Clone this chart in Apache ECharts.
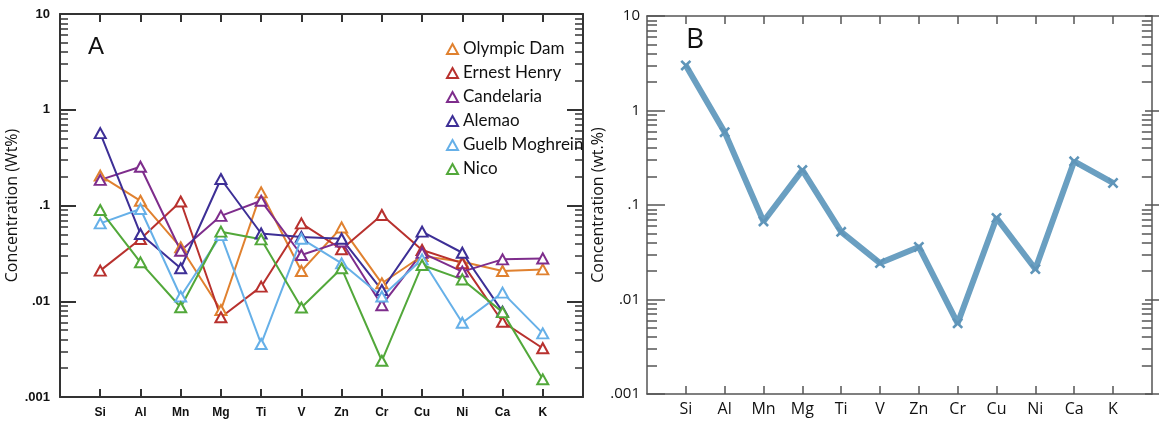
<!DOCTYPE html>
<html>
<head>
<meta charset="utf-8">
<style>
  html, body { margin: 0; padding: 0; background: #fff; }
  #main { width: 1159px; height: 425px; }
</style>
<script src="https://cdn.jsdelivr.net/npm/echarts@6/dist/echarts.min.js"></script>
</head>
<body>
<div id="main"></div>
<script>
// categories (elements) and y tick labels
const elements = ["Si", "Al", "Mn", "Mg", "Ti", "V", "Zn", "Cr", "Cu", "Ni", "Ca", "K"];
const yTickLabels = [".001", ".01", ".1", "1", "10"];

// panel A, concentration (Wt%) per deposit
const olympicDam = [0.205, 0.112, 0.0366, 0.0081, 0.137, 0.0207, 0.059, 0.0154, 0.0297, 0.0259, 0.0207, 0.0215];
const ernestHenry = [0.0209, 0.0447, 0.11, 0.0068, 0.0142, 0.065, 0.0349, 0.0796, 0.0343, 0.025, 0.0061, 0.00323];
const candelaria = [0.185, 0.254, 0.0337, 0.078, 0.112, 0.0304, 0.042, 0.0091, 0.032, 0.0204, 0.0274, 0.028];
const alemao = [0.57, 0.0504, 0.0221, 0.189, 0.051, 0.047, 0.045, 0.0131, 0.0533, 0.0321, 0.0078, null];
const guelbMoghrein = [0.065, 0.092, 0.0112, 0.049, 0.00358, 0.045, 0.0249, 0.0112, 0.0274, 0.00597, 0.0123, 0.00462];
const nico = [0.0897, 0.0255, 0.00865, 0.0533, 0.0443, 0.0086, 0.0221, 0.00239, 0.0239, 0.0169, 0.0077, 0.00153];

// panel B, concentration (wt.%)
const panelB = [3.0, 0.59, 0.067, 0.234, 0.052, 0.0243, 0.036, 0.0056, 0.073, 0.021, 0.29, 0.171];

const seriesA = [
  { name: "Olympic Dam", data: olympicDam, color: "#e0812f" },
  { name: "Ernest Henry", data: ernestHenry, color: "#b8312e" },
  { name: "Candelaria", data: candelaria, color: "#7e2d8c" },
  { name: "Alemao", data: alemao, color: "#3d2f96" },
  { name: "Guelb Moghrein", data: guelbMoghrein, color: "#66b0e8" },
  { name: "Nico", data: nico, color: "#52a83a" },
];

// padded category axis so the first and last element sit one step in from the box
const axisCats = [" ", ...elements, "  "];
const pad = (arr) => [null, ...arr, null];

// minor tick positions in log10 space: 2..9 within each decade
const minorTicks = [];
for (let d = -3; d < 1; d++) {
  for (let k = 2; k <= 9; k++) minorTicks.push(d + Math.log10(k));
}

const chartDom = document.getElementById("main");
const myChart = echarts.init(chartDom);

function xAxes(gridIndex, opt) {
  const common = {
    type: "category",
    gridIndex: gridIndex,
    data: axisCats,
    boundaryGap: false,
    axisLine: { onZero: false, lineStyle: { color: opt.lineColor, width: opt.lineWidth } },
    axisTick: {
      show: true,
      inside: true,
      length: 8,
      interval: (i, v) => v.trim() !== "",
      lineStyle: { color: opt.lineColor, width: opt.tickWidth },
    },
    splitLine: { show: false },
  };
  return [
    Object.assign({}, common, {
      position: "bottom",
      axisLabel: {
        interval: 0,
        margin: opt.xLabelMargin,
        color: "#111",
        fontSize: opt.xFontSize,
        fontFamily: opt.font,
        fontWeight: opt.fontWeight,
      },
    }),
    Object.assign({}, common, { position: "top", axisLabel: { show: false } }),
  ];
}

function yAxes(gridIndex, opt) {
  const logAxis = (pos, showLabel) => ({
    type: "log",
    logBase: 10,
    gridIndex: gridIndex,
    position: pos,
    min: 0.001,
    max: 10,
    splitNumber: 4,
    axisLine: { show: true, onZero: false, lineStyle: { color: opt.lineColor, width: opt.lineWidth } },
    axisTick: { show: false },
    splitLine: { show: false },
    axisLabel: {
      show: showLabel,
      margin: opt.yLabelMargin,
      color: "#111",
      fontSize: opt.yFontSize,
      fontFamily: opt.font,
      fontWeight: opt.fontWeight,
      formatter: (v) => yTickLabels[Math.round(Math.log10(v)) + 3],
    },
    name: showLabel ? opt.yName : "",
    nameLocation: "middle",
    nameGap: opt.nameGap,
    nameTextStyle: { fontSize: 16, fontFamily: "Open Sans", color: "#111" },
  });
  const minorAxis = (pos) => ({
    type: "value",
    gridIndex: gridIndex,
    position: pos,
    min: -3,
    max: 1,
    axisLine: { show: true, onZero: false, lineStyle: { color: "rgba(0,0,0,0)" } },
    axisLabel: { show: false },
    splitLine: { show: false },
    axisTick: {
      show: true,
      inside: true,
      length: opt.minorLen,
      customValues: minorTicks,
      lineStyle: { color: opt.lineColor, width: 1.5 },
    },
  });
  return [logAxis("left", true), minorAxis("left"), logAxis("right", false), minorAxis("right")];
}

const optA = {
  lineColor: "#333", lineWidth: 2, tickWidth: 2, majorLen: 16, minorLen: 8,
  font: "Liberation Sans", fontWeight: "bold", xFontSize: 12, yFontSize: 13,
  xLabelMargin: 10, yLabelMargin: 10, yName: "Concentration (Wt%)", nameGap: 32,
};
const optB = {
  lineColor: "#555", lineWidth: 1.5, tickWidth: 1.5, majorLen: 18, minorLen: 10,
  font: "Open Sans", fontWeight: "normal", xFontSize: 16, yFontSize: 15,
  xLabelMargin: 7, yLabelMargin: 7, yName: "Concentration (wt.%)", nameGap: 33,
};

// narrow strips along each side; their split lines at every decade act as the long ticks
const strips = [
  { grid: { left: 60, width: optA.majorLen, top: 14, bottom: 28 }, opt: optA, width: 2 },
  { grid: { left: 583 - optA.majorLen, width: optA.majorLen, top: 14, bottom: 28 }, opt: optA, width: 2 },
  { grid: { left: 647, width: optB.majorLen, top: 16, bottom: 31 }, opt: optB, width: 1.5 },
  { grid: { left: 1163 - optB.majorLen, width: optB.majorLen, top: 16, bottom: 31 }, opt: optB, width: 1.5 },
];

const option = {
  animation: false,
  backgroundColor: "#fff",
  grid: [
    { left: 60, right: 576, top: 14, bottom: 28 },
    { left: 647, right: -4, top: 16, bottom: 31 },
    ...strips.map((s) => s.grid),
  ],
  xAxis: [
    ...xAxes(0, optA),
    ...xAxes(1, optB),
    ...strips.map((s, i) => ({ type: "value", gridIndex: i + 2, show: false, min: 0, max: 1 })),
  ],
  yAxis: [
    ...yAxes(0, optA),
    ...yAxes(1, optB),
    ...strips.map((s, i) => ({
      type: "value",
      gridIndex: i + 2,
      min: -3,
      max: 1,
      interval: 1,
      axisLine: { show: false },
      axisTick: { show: false },
      axisLabel: { show: false },
      splitLine: { show: true, lineStyle: { color: s.opt.lineColor, width: s.width, type: "solid" } },
    })),
  ],
  legend: {
    orient: "vertical",
    left: 441,
    top: 35,
    icon: "triangle",
    itemWidth: 11,
    itemHeight: 10,
    itemGap: 6,
    textStyle: { fontSize: 17, fontFamily: "Lato", color: "#111", lineHeight: 18 },
    data: seriesA.map((s) => s.name),
  },
  graphic: [
    { type: "text", left: 88, top: 35, style: { text: "A", fontSize: 24, fontFamily: "Liberation Sans", fill: "#111" } },
    { type: "text", left: 686, top: 26, style: { text: "B", fontSize: 28, fontFamily: "Open Sans", fill: "#111" } },
  ],
  series: [
    ...seriesA.map((s) => ({
      name: s.name,
      type: "line",
      xAxisIndex: 0,
      yAxisIndex: 0,
      data: pad(s.data),
      symbol: "triangle",
      symbolSize: [11, 10],
      color: s.color,
      lineStyle: { color: s.color, width: 2 },
      itemStyle: { color: "#fff", borderColor: s.color, borderWidth: 2 },
    })),
    {
      name: "B",
      type: "line",
      xAxisIndex: 2,
      yAxisIndex: 4,
      data: pad(panelB),
      symbol: "path://M2,0L6,4L10,0L12,2L8,6L12,10L10,12L6,8L2,12L0,10L4,6L0,2Z",
      symbolSize: 11,
      color: "#6a9fc1",
      lineStyle: { color: "#6a9fc1", width: 6 },
      itemStyle: { color: "#5f95b9" },
    },
  ],
};

option && myChart.setOption(option);
</script>
</body>
</html>
